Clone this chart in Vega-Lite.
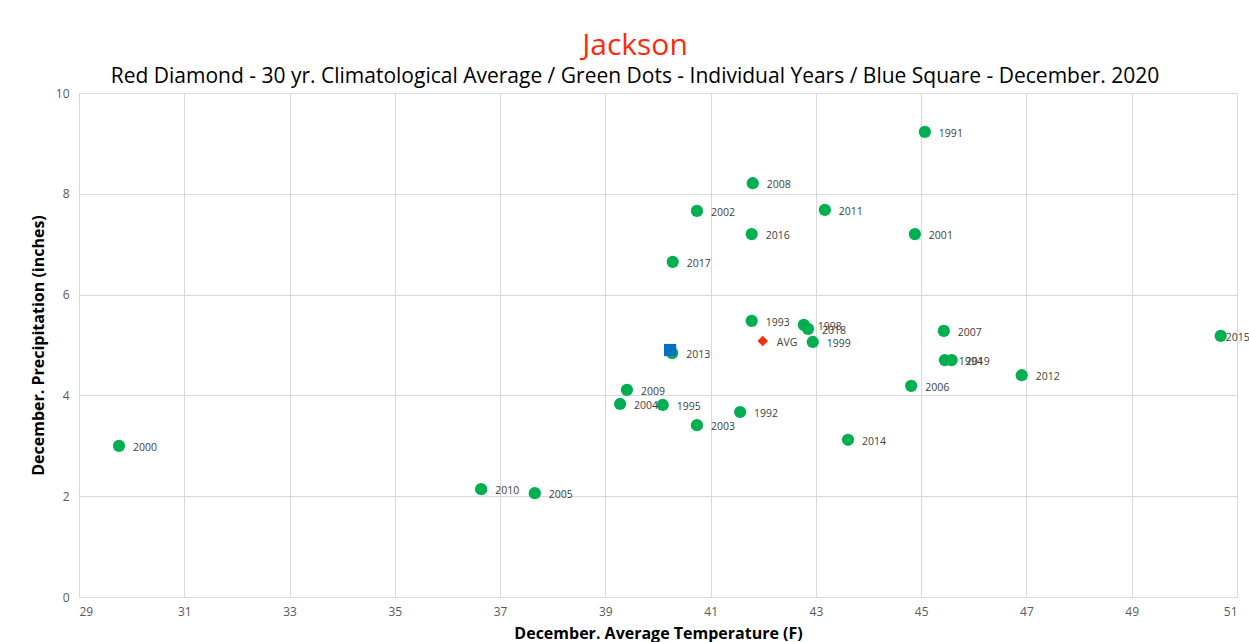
{
  "$schema": "https://vega.github.io/schema/vega-lite/v6.json",
  "width": 1158,
  "height": 504,
  "autosize": {"type": "none"},
  "padding": {"left": 79, "top": 93, "right": 12, "bottom": 45},
  "background": "white",
  "config": {
    "view": {"stroke": null},
    "font": "Open Sans"
  },
  "title": {
    "text": "Jackson",
    "subtitle": "Red Diamond - 30 yr. Climatological Average / Green Dots - Individual Years / Blue Square - December. 2020",
    "color": "#FF2A0E",
    "fontSize": 30,
    "fontWeight": "normal",
    "font": "Open Sans",
    "subtitleFont": "Open Sans",
    "subtitleFontSize": 21,
    "subtitleColor": "#000000",
    "subtitlePadding": 5,
    "anchor": "middle",
    "frame": "group",
    "dx": -23,
    "offset": 0
  },
  "data": {
    "values": [
      {"label": "1991", "temp": 45.07, "precip": 9.23, "type": "year"},
      {"label": "1992", "temp": 41.56, "precip": 3.67, "type": "year"},
      {"label": "1993", "temp": 41.78, "precip": 5.48, "type": "year"},
      {"label": "1994", "temp": 45.45, "precip": 4.70, "type": "year"},
      {"label": "1995", "temp": 40.09, "precip": 3.81, "type": "year"},
      {"label": "1998", "temp": 42.77, "precip": 5.40, "type": "year"},
      {"label": "1999", "temp": 42.94, "precip": 5.06, "type": "year"},
      {"label": "2000", "temp": 29.76, "precip": 3.00, "type": "year"},
      {"label": "2001", "temp": 44.88, "precip": 7.20, "type": "year"},
      {"label": "2002", "temp": 40.74, "precip": 7.66, "type": "year"},
      {"label": "2003", "temp": 40.74, "precip": 3.41, "type": "year"},
      {"label": "2004", "temp": 39.28, "precip": 3.83, "type": "year"},
      {"label": "2005", "temp": 37.66, "precip": 2.06, "type": "year"},
      {"label": "2006", "temp": 44.81, "precip": 4.19, "type": "year"},
      {"label": "2007", "temp": 45.43, "precip": 5.28, "type": "year"},
      {"label": "2008", "temp": 41.80, "precip": 8.21, "type": "year"},
      {"label": "2009", "temp": 39.41, "precip": 4.11, "type": "year"},
      {"label": "2010", "temp": 36.64, "precip": 2.14, "type": "year"},
      {"label": "2011", "temp": 43.17, "precip": 7.68, "type": "year"},
      {"label": "2012", "temp": 46.91, "precip": 4.40, "type": "year"},
      {"label": "2013", "temp": 40.27, "precip": 4.84, "type": "year"},
      {"label": "2014", "temp": 43.61, "precip": 3.12, "type": "year"},
      {"label": "2015", "temp": 50.69, "precip": 5.18, "type": "year"},
      {"label": "2016", "temp": 41.78, "precip": 7.20, "type": "year"},
      {"label": "2017", "temp": 40.28, "precip": 6.65, "type": "year"},
      {"label": "2018", "temp": 42.85, "precip": 5.32, "type": "year"},
      {"label": "2019", "temp": 45.58, "precip": 4.70, "type": "year"},
      {"label": "AVG", "temp": 41.99, "precip": 5.08, "type": "avg"},
      {"label": "2020", "temp": 40.23, "precip": 4.90, "type": "current"}
    ]
  },
  "encoding": {
    "x": {
      "field": "temp",
      "type": "quantitative",
      "scale": {"domain": [29, 51], "nice": false, "zero": false},
      "axis": {
        "values": [29, 31, 33, 35, 37, 39, 41, 43, 45, 47, 49, 51],
        "title": "December. Average Temperature (F)",
        "titleFontSize": 16,
        "titleFontWeight": "bold",
        "titleColor": "#000000",
        "titlePadding": 8,
        "labelFontSize": 12,
        "labelColor": "#595959",
        "labelPadding": 9,
        "ticks": false,
        "domainColor": "#d9d9d9",
        "gridColor": "#d9d9d9",
        "grid": true
      }
    },
    "y": {
      "field": "precip",
      "type": "quantitative",
      "scale": {"domain": [0, 10], "nice": false},
      "axis": {
        "values": [0, 2, 4, 6, 8, 10],
        "title": "December. Precipitation (inches)",
        "titleFontSize": 16,
        "titleFontWeight": "bold",
        "titleColor": "#000000",
        "titlePadding": 9,
        "labelFontSize": 12,
        "labelColor": "#595959",
        "labelPadding": 10,
        "ticks": false,
        "domainColor": "#d9d9d9",
        "gridColor": "#d9d9d9",
        "grid": true
      }
    }
  },
  "layer": [
    {
      "transform": [{"filter": "datum.type === 'year'"}],
      "mark": {"type": "point", "shape": "circle", "filled": true, "size": 150, "color": "#00B050", "opacity": 1}
    },
    {
      "transform": [{"filter": "datum.type === 'avg'"}],
      "mark": {"type": "point", "shape": "diamond", "filled": true, "size": 110, "color": "#FF2A0E", "opacity": 1}
    },
    {
      "transform": [{"filter": "datum.type === 'current'"}],
      "mark": {"type": "point", "shape": "square", "filled": true, "size": 150, "color": "#0070C0", "opacity": 1}
    },
    {
      "transform": [{"filter": "datum.type !== 'current' && datum.label !== '2015'"}],
      "mark": {"type": "text", "align": "left", "baseline": "middle", "dx": 14, "dy": 2, "fontSize": 10.5, "color": "#404040"},
      "encoding": {"text": {"field": "label"}}
    },
    {
      "transform": [{"filter": "datum.label === '2015'"}],
      "mark": {"type": "text", "align": "left", "baseline": "middle", "dx": 5, "dy": 2, "fontSize": 10.5, "color": "#404040"},
      "encoding": {"text": {"field": "label"}}
    }
  ]
}
